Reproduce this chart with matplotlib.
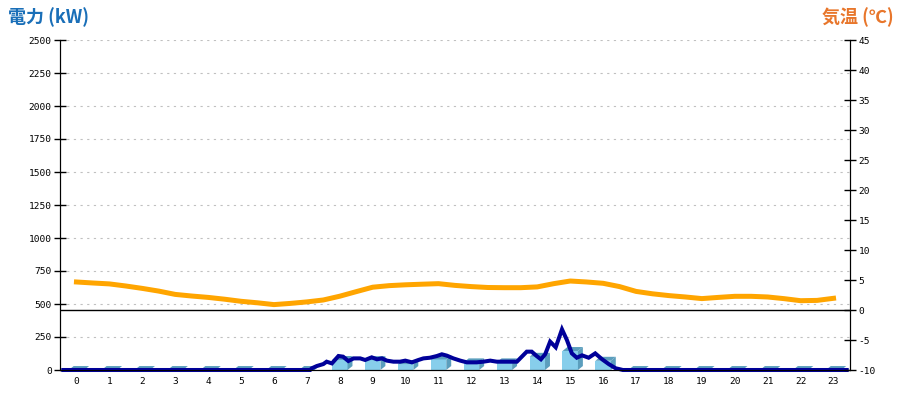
import matplotlib
matplotlib.use("Agg")
import matplotlib.pyplot as plt
from matplotlib.patches import Polygon

# ---------------- data ----------------
hours = list(range(24))
hour_labels = [str(h) for h in hours]

# hourly energy bars (kW)
bar_values = [0, 0, 0, 0, 0, 0, 0, 0, 76, 75, 45, 80, 58, 58, 100, 144, 70,
              0, 0, 0, 0, 0, 0, 0]

# instantaneous power line (time in hours, kW)
power_t = [-0.4, 7.1, 7.15, 7.3, 7.5, 7.6, 7.76, 7.96, 8.1, 8.26, 8.42, 8.62,
           8.77, 8.97, 9.13, 9.28, 9.43, 9.63, 9.83, 9.99, 10.19, 10.39, 10.54,
           10.74, 10.95, 11.1, 11.25, 11.45, 11.66, 11.86, 12.16, 12.36, 12.57,
           12.77, 13.07, 13.38, 13.53, 13.68, 13.83, 13.98, 14.11, 14.24,
           14.39, 14.56, 14.75, 14.9, 15.05, 15.2, 15.36, 15.56, 15.76, 15.97,
           16.17, 16.38, 16.52, 16.6, 23.4]
power_v = [0, 0, 13, 30, 45, 63, 50, 106, 101, 68, 88, 88,
           76, 96, 81, 88, 71, 63, 63, 71, 58, 76, 88,
           93, 106, 119, 109, 88, 71, 58, 58, 63, 71,
           63, 63, 63, 101, 139, 139, 106, 81, 119,
           215, 172, 308, 227, 126, 93, 111, 93, 126, 81,
           45, 13, 5, 0, 0]

# temperature (°C)
temp_t = [0, 0.5, 1, 1.5, 2, 2.5, 3, 3.5, 4, 4.5, 5, 5.5, 6, 6.5, 7, 7.5, 8,
          8.5, 9, 9.5, 10, 10.5, 11, 11.5, 12, 12.5, 13, 13.5, 14, 14.5, 15,
          15.5, 16, 16.5, 17, 17.5, 18, 18.5, 19, 19.5, 20, 20.5, 21, 21.5,
          22, 22.5, 23]
temp_v = [4.67, 4.5, 4.35, 4.0, 3.6, 3.15, 2.6, 2.33, 2.1, 1.8, 1.45, 1.2,
          0.9, 1.1, 1.35, 1.67, 2.3, 3.06, 3.8, 4.06, 4.2, 4.3, 4.39, 4.1,
          3.9, 3.75, 3.72, 3.72, 3.85, 4.39, 4.83, 4.67, 4.45, 3.9, 3.1, 2.7,
          2.4, 2.17, 1.9, 2.1, 2.28, 2.28, 2.17, 1.89, 1.55, 1.6, 1.95]

power_ticks = [0, 250, 500, 750, 1000, 1250, 1500, 1750, 2000, 2250, 2500]
temp_ticks = [-10, -5, 0, 5, 10, 15, 20, 25, 30, 35, 40, 45]

# ---------------- figure ----------------
plt.rcParams['font.family'] = ['Noto Sans CJK JP', 'DejaVu Sans']
fig = plt.figure(figsize=(9, 4), dpi=100)
ax = fig.add_axes([60 / 900, 30 / 400, 790 / 900, 330 / 400])
ax2 = ax.twinx()

ax.set_xlim(-0.5, 23.5)
ax.set_ylim(0, 2500)
ax2.set_ylim(-10, 45)

# grid (left axis)
for v in power_ticks[1:]:
    ax.axhline(v, color='#c0c0c0', lw=0.8, ls=(0, (2, 4)), zorder=0)

# 3D-style bars
bw = 0.47
dx = 0.15   # depth in x (data units)
dy = 30     # depth in y (data units)
front_c = '#87ceeb'
dark_c = '#5b9ebd'
for h, v in zip(hours, bar_values):
    x0, x1 = h - bw / 2, h + bw / 2
    if v > 0:
        ax.bar(h, v, width=bw, color=front_c, edgecolor='none', zorder=2)
        side = Polygon([(x1, 0), (x1 + dx, dy), (x1 + dx, v + dy), (x1, v)],
                       closed=True, facecolor=dark_c, edgecolor='none', zorder=2)
        ax.add_patch(side)
    top = Polygon([(x0, v), (x1, v), (x1 + dx, v + dy), (x0 + dx, v + dy)],
                  closed=True, facecolor=dark_c, edgecolor='none', zorder=2)
    ax.add_patch(top)

# power line
ax.plot(power_t, power_v, color='#000099', lw=2.9, zorder=4,
        solid_joinstyle='miter', clip_on=False)

# temperature
ax2.axhline(0, color='black', lw=1.0, zorder=1)
ax2.plot(temp_t, temp_v, color='#ffa500', lw=3.6, zorder=3)

# spines / ticks
for a in (ax, ax2):
    a.spines['top'].set_visible(False)
ax.spines['bottom'].set_color('black')
ax.set_yticks(power_ticks)
ax.set_yticklabels([str(v) for v in power_ticks])
ax2.set_yticks(temp_ticks)
ax2.set_yticklabels([str(v) for v in temp_ticks])
ax.set_xticks(hours)
ax.set_xticklabels(hour_labels)

for lab in ax.get_yticklabels() + ax2.get_yticklabels() + ax.get_xticklabels():
    lab.set_fontfamily('DejaVu Sans Mono')
    lab.set_fontsize(6.8)
ax.tick_params(axis='y', direction='inout', length=8, width=1, pad=2)
ax2.tick_params(axis='y', direction='inout', length=8, width=1, pad=2)
ax.tick_params(axis='x', length=0, pad=5)

# titles
fig.text(8 / 900, 1 - 17 / 400, '電力 (kW)', color='#1a6fb8', fontsize=13,
         fontweight='bold', ha='left', va='center')
fig.text(894 / 900, 1 - 17 / 400, '気温 (℃)', color='#e8762b', fontsize=13,
         fontweight='bold', ha='right', va='center')

fig.savefig('out.png', dpi=100)
